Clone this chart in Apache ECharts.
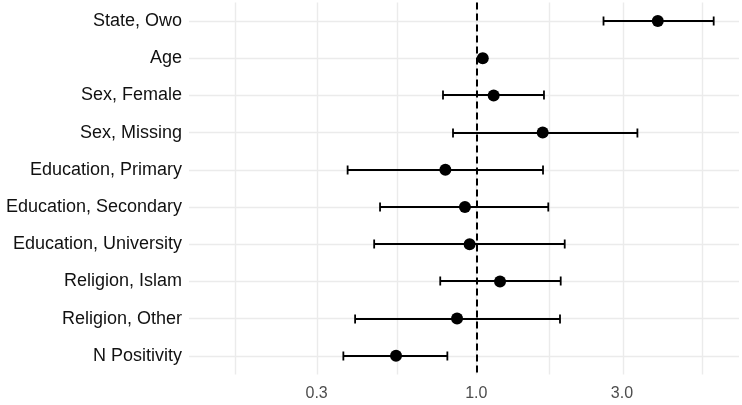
<!DOCTYPE html>
<html><head><meta charset="utf-8">
<script src="https://cdn.jsdelivr.net/npm/echarts@6/dist/echarts.min.js"></script>
<style>html,body{margin:0;padding:0;background:#fff}#c{width:742px;height:405px}</style>
</head><body><div id="c"></div>
<script>
const categories = ["State, Owo","Age","Sex, Female","Sex, Missing","Education, Primary","Education, Secondary","Education, University","Religion, Islam","Religion, Other","N Positivity"];
const estimates = [3.93, 1.05, 1.14, 1.65, 0.792, 0.918, 0.951, 1.196, 0.865, 0.546];
const lower    = [2.61, 1.03, 0.778, 0.839, 0.379, 0.484, 0.463, 0.762, 0.401, 0.367];
const upper    = [5.99, 1.07, 1.666, 3.37, 1.654, 1.721, 1.948, 1.89, 1.88, 0.804];
const tickValues = [0.3, 1.0, 3.0];
const tickLabels = ["0.3", "1.0", "3.0"];
const minorGrid = [0.164, 0.548, 1.732, 5.48];
const refValue = 1.0;
const xRange = [0.1146, 7.25];

const L = Math.log10;
const chart = echarts.init(document.getElementById('c'));
const gridLines = [];
tickValues.forEach(v => gridLines.push({xAxis: L(v), lineStyle: {color: '#ebebeb', width: 1.4, type: 'solid'}}));
minorGrid.forEach(v => gridLines.push({xAxis: L(v), lineStyle: {color: '#ebebeb', width: 1.4, type: 'solid'}}));
categories.forEach(c => gridLines.push({yAxis: c, lineStyle: {color: '#ebebeb', width: 1.4, type: 'solid'}}));

chart.setOption({
  animation: false,
  grid: {left: 189, right: 3, top: 2.4, height: 372},
  xAxis: {
    type: 'value', min: L(xRange[0]), max: L(xRange[1]),
    axisLine: {show: false}, axisTick: {show: false}, splitLine: {show: false},
    axisLabel: {
      customValues: tickValues.map(L),
      formatter: v => { const i = tickValues.findIndex(t => Math.abs(L(t) - v) < 1e-6); return i >= 0 ? tickLabels[i] : ''; },
      color: '#4d4d4d', fontSize: 16, fontFamily: 'Liberation Sans, Arial, sans-serif', margin: 11
    }
  },
  yAxis: {
    type: 'category', data: categories, inverse: true,
    axisLine: {show: false}, axisTick: {show: false}, splitLine: {show: false},
    axisLabel: {color: '#111', fontSize: 18, fontFamily: 'Liberation Sans, Arial, sans-serif', margin: 7}
  },
  series: [
    {
      type: 'line', data: [], silent: true, z: 1,
      markLine: {z: 1, silent: true, symbol: 'none', label: {show: false}, data: gridLines, animation: false}
    },
    {
      type: 'line', data: [], silent: true, z: 2,
      markLine: {z: 2, silent: true, symbol: 'none', label: {show: false}, animation: false,
        data: [{xAxis: L(refValue), lineStyle: {color: '#000', width: 2, type: [7, 4]}}]}
    },
    {
      type: 'custom', z: 3, silent: true,
      itemStyle: {color: '#000'},
      data: categories.map((c, i) => [L(lower[i]), L(upper[i]), i]),
      renderItem: (params, api) => {
        const yi = api.value(2);
        const p1 = api.coord([api.value(0), yi]);
        const p2 = api.coord([api.value(1), yi]);
        const y = Math.round(p1[1]);
        const h = 4.5, w = 1.8;
        const st = {fill: '#000'};
        return {type: 'group', children: [
          {type: 'rect', shape: {x: p1[0], y: y - w / 2, width: p2[0] - p1[0], height: w}, style: st},
          {type: 'rect', shape: {x: p1[0] - w / 2, y: y - h, width: w, height: 2 * h}, style: st},
          {type: 'rect', shape: {x: p2[0] - w / 2, y: y - h, width: w, height: 2 * h}, style: st}
        ]};
      },
      encode: {x: [0, 1], y: 2}
    },
    {
      type: 'scatter', z: 4, symbol: 'circle', symbolSize: 12, silent: true,
      itemStyle: {color: '#000', opacity: 1},
      data: categories.map((c, i) => [L(estimates[i]), c])
    }
  ]
});
</script></body></html>
